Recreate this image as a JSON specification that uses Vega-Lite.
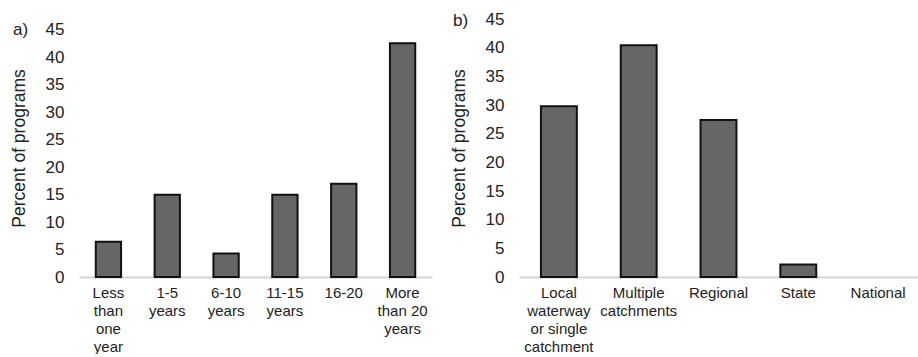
{
  "$schema": "https://vega.github.io/schema/vega-lite/v6.json",
  "background": "white",
  "padding": {"left": 10, "top": 10, "right": 0, "bottom": 0},
  "bounds": "flush",
  "spacing": 87,
  "config": {
    "font": "Liberation Sans",
    "view": {"stroke": null},
    "axis": {"labelColor": "#222", "titleColor": "#222", "labelFont": "Liberation Sans", "titleFont": "Liberation Sans", "grid": false},
    "title": {"font": "Liberation Sans", "fontWeight": "normal", "fontSize": 17, "color": "#222"}
  },
  "datasets": {
    "duration": [
      {"category": "Less\nthan\none\nyear", "percent": 6.4},
      {"category": "1-5\nyears", "percent": 15},
      {"category": "6-10\nyears", "percent": 4.3},
      {"category": "11-15\nyears", "percent": 15},
      {"category": "16-20", "percent": 17},
      {"category": "More\nthan 20\nyears", "percent": 42.6}
    ],
    "scale": [
      {"category": "Local\nwaterway\nor single\ncatchment", "percent": 29.8},
      {"category": "Multiple\ncatchments", "percent": 40.4},
      {"category": "Regional", "percent": 27.4},
      {"category": "State", "percent": 2.2},
      {"category": "National", "percent": 0}
    ]
  },
  "hconcat": [
    {
      "width": 353,
      "height": 258,
      "data": {"name": "duration"},
      "title": {"text": "a)", "anchor": "start", "frame": "group", "offset": 0, "baseline": "middle", "align": "left", "dx": -66, "dy": 28},
      "mark": {"type": "bar", "fill": "#666666", "stroke": "#111", "strokeWidth": 2},
      "encoding": {
        "x": {"field": "category", "type": "nominal", "sort": null,
          "scale": {"paddingInner": 0.57, "paddingOuter": 0.285},
          "axis": {"title": null, "labelAngle": 0, "labelFontSize": 15, "labelLineHeight": 18, "labelPadding": 8, "ticks": false, "domainColor": "#d4d4d4", "domainWidth": 2, "labelExpr": "split(datum.label, '\\n')"}},
        "y": {"field": "percent", "type": "quantitative",
          "scale": {"domain": [0, 47], "nice": false},
          "axis": {"title": "Percent of programs", "values": [0, 5, 10, 15, 20, 25, 30, 35, 40, 45], "domain": false, "ticks": false, "labelFontSize": 17, "labelPadding": 15, "titleFontSize": 17.5, "titleFontWeight": "normal", "titlePadding": 17}}
      }
    },
    {
      "width": 399,
      "height": 258,
      "data": {"name": "scale"},
      "title": {"text": "b)", "anchor": "start", "frame": "group", "offset": 0, "baseline": "middle", "align": "left", "dx": -66, "dy": 28},
      "mark": {"type": "bar", "fill": "#666666", "stroke": "#111", "strokeWidth": 2},
      "encoding": {
        "x": {"field": "category", "type": "nominal", "sort": null,
          "scale": {"paddingInner": 0.55, "paddingOuter": 0.275},
          "axis": {"title": null, "labelAngle": 0, "labelFontSize": 15, "labelLineHeight": 18, "labelPadding": 8, "ticks": false, "domainColor": "#d4d4d4", "domainWidth": 2, "labelExpr": "split(datum.label, '\\n')"}},
        "y": {"field": "percent", "type": "quantitative",
          "scale": {"domain": [0, 45], "nice": false},
          "axis": {"title": "Percent of programs", "values": [0, 5, 10, 15, 20, 25, 30, 35, 40, 45], "domain": false, "ticks": false, "labelFontSize": 17, "labelPadding": 15, "titleFontSize": 17.5, "titleFontWeight": "normal", "titlePadding": 17}},
        "strokeOpacity": {"condition": {"test": "datum.percent > 0", "value": 1}, "value": 0}
      }
    }
  ]
}
